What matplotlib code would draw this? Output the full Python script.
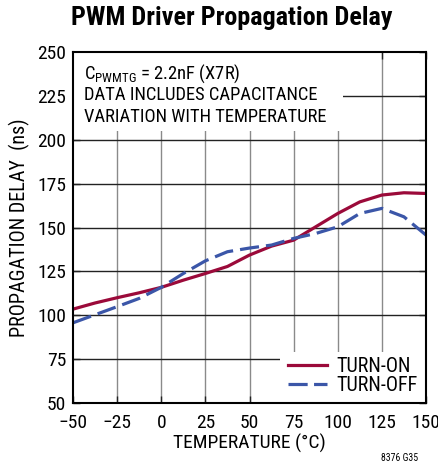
import matplotlib
matplotlib.use("Agg")
import numpy as np
import matplotlib.pyplot as plt
import matplotlib.font_manager as fm
from matplotlib.patches import Rectangle
from matplotlib.lines import Line2D


def pick_font(cands):
    for c in cands:
        try:
            fm.findfont(fm.FontProperties(family=c), fallback_to_default=False)
            return c
        except ValueError:
            pass
    return 'DejaVu Sans'


FONT = pick_font(['Roboto Condensed', 'Liberation Sans Narrow', 'Archivo Narrow', 'Sofia Sans Condensed'])
plt.rcParams['font.family'] = [FONT, 'DejaVu Sans']
plt.rcParams['mathtext.fontset'] = 'custom'
plt.rcParams['mathtext.rm'] = FONT

# data
temp_on = [-50, -37.5, -25, -12.5, 0, 12.5, 25, 37.5, 50, 62.5, 75, 87.5, 100, 112.5, 125, 137.5, 150]
delay_on = [103.5, 107, 110, 112.8, 115.9, 120, 123.8, 127.8, 134.3, 139.4, 142.8, 150.4, 158, 164.6, 168.5, 169.8, 169.4]
temp_off = [-50, -37.5, -25, -12.5, 0, 12.5, 25, 37.5, 50, 62.5, 75, 87.5, 100, 112.5, 125, 137.5, 150]
delay_off = [95.7, 100.3, 104.9, 109.6, 115.9, 123.8, 131, 136.2, 138.3, 140, 143.8, 146.6, 150.4, 158, 160.9, 156.1, 145.7]

xticks = [-50, -25, 0, 25, 50, 75, 100, 125, 150]
yticks = [50, 75, 100, 125, 150, 175, 200, 225, 250]

RED = '#9b0a3a'
BLUE = '#3b56a8'

fig = plt.figure(figsize=(4.39, 4.69), dpi=100)
ax = fig.add_axes([0.1663, 0.1407, 0.8041, 0.7484])

for x in xticks[1:-1]:
    ax.axvline(x, color='#8a8a8a', lw=1.0, zorder=1)
for y in yticks[1:-1]:
    ax.axhline(y, color='#222222', lw=1.0, zorder=1)

ax.plot(temp_on, delay_on, color=RED, lw=2.3, zorder=3, solid_capstyle='butt')
ax.plot(temp_off, delay_off, color=BLUE, lw=2.3, zorder=3, dashes=(6, 2.2))

# white boxes covering the grid behind the note and the legend
ax.add_patch(Rectangle((-50, 205), 153, 45, facecolor='white', edgecolor='none', zorder=2))
ax.add_patch(Rectangle((67.3, 50), 82.7, 29, facecolor='white', edgecolor='none', zorder=2))

ax.text(-43.5, 237.8, r'C$_{\mathrm{PWMTG}}$ = 2.2nF (X7R)', fontsize=13.3, va='center', zorder=4)
ax.text(-43.5, 225.6, 'DATA INCLUDES CAPACITANCE', fontsize=13.3, va='center', zorder=4)
ax.text(-43.5, 213.2, 'VARIATION WITH TEMPERATURE', fontsize=13.3, va='center', zorder=4)

handles = [Line2D([], [], color=RED, lw=2.3),
           Line2D([], [], color=BLUE, lw=2.3, dashes=(6, 2))]
leg = ax.legend(handles, ['TURN-ON', 'TURN-OFF'], loc='lower right', frameon=False,
                fontsize=14.5, handlelength=1.9, handletextpad=0.5, labelspacing=0.0,
                borderaxespad=0.1, borderpad=0.3)
leg.set_zorder(5)

ax.set_xlim(-50, 150)
ax.set_ylim(50, 250)
ax.set_xticks(xticks)
ax.set_yticks(yticks)
ax.set_xticklabels([str(t).replace('-', '\u2212') for t in xticks])
ax.tick_params(direction='in', length=5, width=1, top=True, right=True,
               labelsize=14, pad=5, color='#222222')
ax.tick_params(axis='x', pad=8)
for s in ax.spines.values():
    s.set_linewidth(1.5)
    s.set_zorder(6)

ax.set_xlabel('TEMPERATURE (°C)', fontsize=14, labelpad=1)
ax.set_ylabel('PROPAGATION DELAY  (ns)', fontsize=14.5, labelpad=5)

fig.text(0.528, 0.962, 'PWM Driver Propagation Delay', fontsize=18.8, fontweight='bold',
         ha='center', va='center')
fig.text(0.952, 0.013, '8376 G35', fontsize=7, ha='right', va='bottom')

fig.savefig('out.png', dpi=100)
